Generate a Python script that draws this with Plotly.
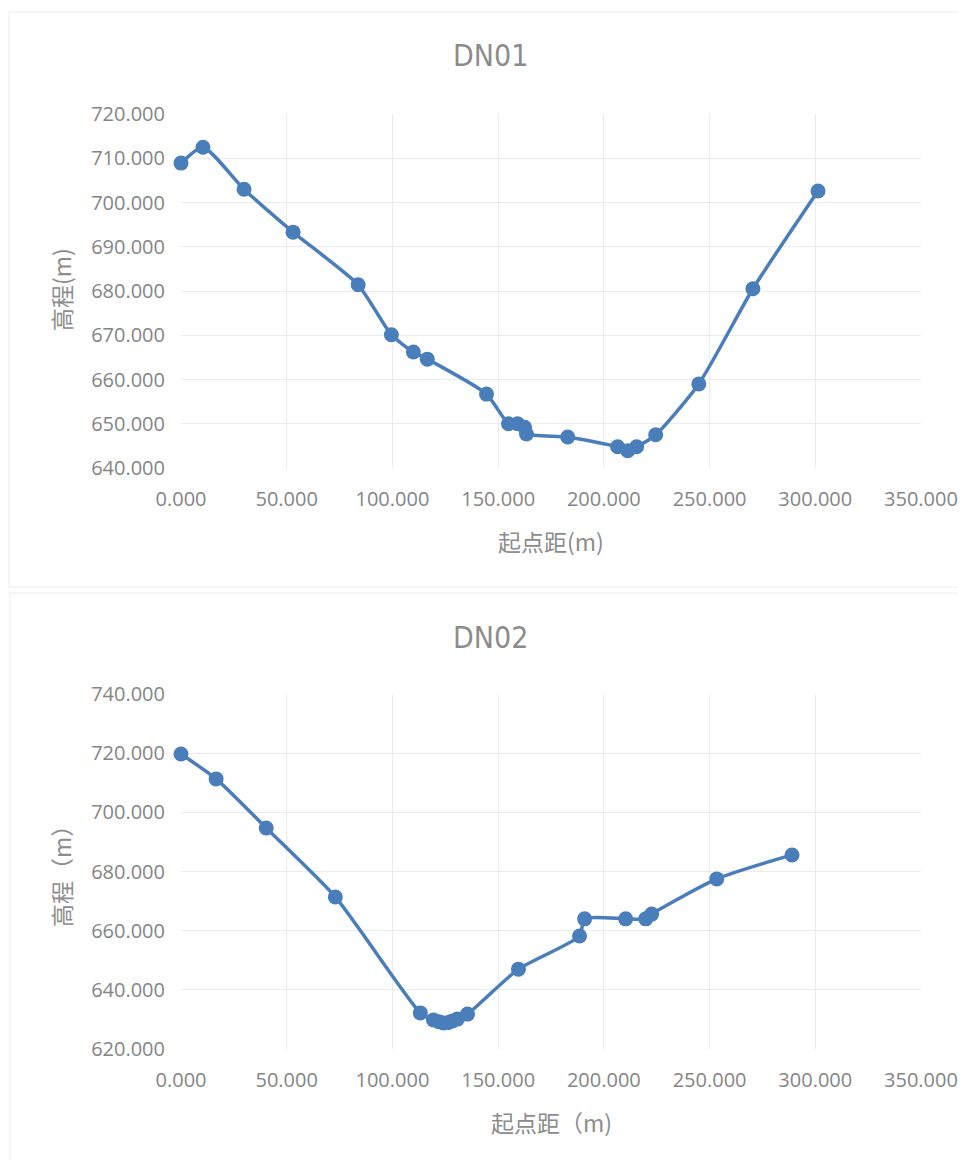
import plotly.graph_objects as go

# DN01 section
dn01_x = [0.0, 10.4, 29.8, 53.0, 83.8, 99.5, 109.9, 116.5, 144.5, 154.9, 159.2, 162.5, 163.4,
          182.9, 206.5, 211.3, 215.5, 224.5, 244.9, 270.5, 301.3]
dn01_y = [708.9, 712.5, 703.0, 693.3, 681.4, 670.1, 666.2, 664.6, 656.7, 650.0, 650.0, 649.2, 647.7,
          647.0, 644.8, 643.9, 644.8, 647.5, 659.0, 680.5, 702.6]

# DN02 section
dn02_x = [0.0, 16.6, 40.3, 73.0, 113.2, 119.4, 122.0, 124.1, 126.5, 128.4, 130.7, 135.5, 159.6,
          188.5, 190.9, 210.3, 219.8, 222.6, 253.4, 289.0]
dn02_y = [719.7, 711.3, 694.7, 671.4, 632.2, 629.8, 629.2, 628.8, 629.0, 629.5, 630.1, 631.8, 647.0,
          658.2, 664.0, 664.0, 664.0, 665.6, 677.5, 685.6]

titles = ["DN01", "DN02"]
y_titles = ["高程(m)", "高程（m）"]
x_titles = ["起点距(m)", "起点距（m)"]
x_range = [0, 350]
y_ranges = [[640, 720], [620, 740]]
y_dtick = [10, 20]

OFF = 8  # page body margin
W, H = 966 - OFF, 1160 - OFF
COLOR = "#4A7EBB"
TICKFONT = dict(family="Open Sans, Noto Sans, sans-serif", size=20, color="#858585")
TITLEFONT = dict(family="Noto Sans CJK SC, sans-serif", size=23, color="#8c8c8c")

def px_x(v):
    return (v - OFF) / W

def px_y(v):
    return 1 - (v - OFF) / H

fig = go.Figure()

series = [(dn01_x, dn01_y), (dn02_x, dn02_y)]
plot_boxes = [(181, 921, 114, 468), (181, 921, 694, 1049)]
title_y = [55, 637]
ytitle_y = [290, 871]
xtitle_y = [541, 1122]
panels = [(9, 12, 980, 587), (10, 593, 980, 1175)]

layout = dict(
    width=W, height=H, margin=dict(l=0, r=0, t=0, b=0, autoexpand=False),
    paper_bgcolor="white", plot_bgcolor="white", showlegend=False,
    shapes=[], annotations=[],
)

for i, (xs, ys) in enumerate(series):
    ax = "" if i == 0 else str(i + 1)
    fig.add_trace(go.Scatter(
        x=xs, y=ys, mode="lines+markers",
        line=dict(color=COLOR, width=3.5, shape="spline", smoothing=0.6),
        marker=dict(color=COLOR, size=15),
        xaxis="x" + ax, yaxis="y" + ax, cliponaxis=False,
    ))
    x0, x1, y0, y1 = plot_boxes[i]
    layout["xaxis" + ax] = dict(
        domain=[px_x(x0), px_x(x1)], anchor="y" + ax, range=x_range, dtick=50,
        tickformat=".3f", showgrid=True, gridcolor="#ebebeb", gridwidth=1,
        zeroline=False, showline=False, ticks="", tickfont=TICKFONT, ticklabelstandoff=17,
        automargin=False,
    )
    layout["yaxis" + ax] = dict(
        domain=[px_y(y1), px_y(y0)], anchor="x" + ax, range=y_ranges[i], dtick=y_dtick[i],
        tickformat=".3f", showgrid=True, gridcolor="#ebebeb", gridwidth=1,
        zeroline=False, showline=False, ticks="", tickfont=TICKFONT, ticklabelstandoff=15,
        automargin=False,
    )
    px0, py0, px1, py1 = panels[i]
    layout["shapes"].append(dict(
        type="rect", xref="paper", yref="paper",
        x0=px_x(px0), x1=px_x(px1), y0=px_y(py1), y1=px_y(py0),
        line=dict(color="#ececec", width=1), fillcolor="rgba(0,0,0,0)", layer="below",
    ))
    layout["annotations"].append(dict(
        text=titles[i], xref="paper", yref="paper", x=px_x(491), y=px_y(title_y[i]),
        showarrow=False, xanchor="center", yanchor="middle",
        font=dict(family="Liberation Sans Narrow, DejaVu Sans Condensed, Liberation Sans, sans-serif",
                  size=30, color="#8c8c8c"),
    ))
    layout["annotations"].append(dict(
        text=y_titles[i], xref="paper", yref="paper", x=px_x(61), y=px_y(ytitle_y[i]),
        showarrow=False, xanchor="center", yanchor="middle", textangle=-90, font=TITLEFONT,
    ))
    layout["annotations"].append(dict(
        text=x_titles[i], xref="paper", yref="paper", x=px_x(551), y=px_y(xtitle_y[i]),
        showarrow=False, xanchor="center", yanchor="middle", font=TITLEFONT,
    ))

fig.update_layout(**layout)
fig.write_html("out.html")
